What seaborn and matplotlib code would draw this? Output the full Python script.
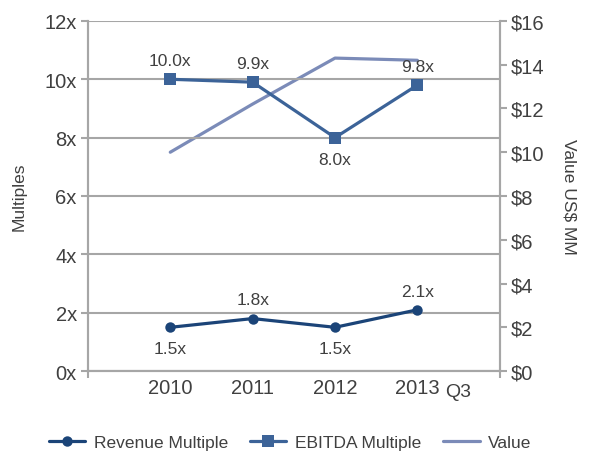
import matplotlib
matplotlib.use("Agg")
import matplotlib.pyplot as plt
import seaborn as sns
import pandas as pd

years = ["2010", "2011", "2012", "2013"]
revenue_multiple = [1.5, 1.8, 1.5, 2.1]
ebitda_multiple = [10.0, 9.9, 8.0, 9.8]
value_usd_mm = [10.0, 12.2, 14.3, 14.2]
revenue_labels = ["1.5x", "1.8x", "1.5x", "2.1x"]
ebitda_labels = ["10.0x", "9.9x", "8.0x", "9.8x"]
revenue_label_pos = ["below", "above", "below", "above"]
ebitda_label_pos = ["above", "above", "below", "above"]

sns.set_theme(style="white")
plt.rcParams['font.family'] = ['Liberation Sans', 'DejaVu Sans']

c_rev = "#1B4478"
c_ebitda = "#3C6398"
c_val = "#7B8BB8"
grid_c = "#A6A6A6"
txt_c = "#404040"

df = pd.DataFrame({"x": range(len(years)), "rev": revenue_multiple,
                   "ebitda": ebitda_multiple, "val": value_usd_mm})

fig = plt.figure(figsize=(5.9, 4.56), dpi=100)
ax = fig.add_axes([0.149, 0.184, 0.698, 0.768])
ax2 = ax.twinx()

sns.lineplot(data=df, x="x", y="val", ax=ax2, color=c_val, lw=2.3, label="Value", legend=False)
sns.lineplot(data=df, x="x", y="rev", ax=ax, color=c_rev, lw=2.3, marker="o", markersize=7.5,
             markeredgewidth=0, label="Revenue Multiple", legend=False)
sns.lineplot(data=df, x="x", y="ebitda", ax=ax, color=c_ebitda, lw=2.3, marker="s", markersize=8.5,
             markeredgewidth=0, label="EBITDA Multiple", legend=False)

ax.set_zorder(ax2.get_zorder() + 1)
ax.patch.set_visible(False)

ax.set_xlim(-1, 4)
ax.set_ylim(0, 12)
ax2.set_ylim(0, 16)
ax.set_yticks(range(0, 13, 2))
ax.set_yticklabels([f"{v}x" for v in range(0, 13, 2)])
ax2.set_yticks(range(0, 17, 2))
ax2.set_yticklabels([f"${v}" for v in range(0, 17, 2)])
ax.set_xticks(range(len(years)))
ax.set_xticklabels(years)
ax.set_xticks([-1, 4], minor=True)
ax.text(3.34, -0.42, "Q3", ha="left", va="top", fontsize=14, color=txt_c,
        transform=ax.transData)

ax.yaxis.grid(True, color=grid_c, lw=1.5)
ax.xaxis.grid(False)
ax2.grid(False)

for a in (ax, ax2):
    for s in a.spines.values():
        s.set_color(grid_c)
        s.set_linewidth(1.5)
    a.spines["top"].set_visible(False)
ax.tick_params(axis="y", which="major", length=5, width=1.5, color=grid_c, labelsize=14.5,
               labelcolor=txt_c, left=True, pad=3)
ax2.tick_params(axis="y", which="major", length=5, width=1.5, color=grid_c, labelsize=14.5,
                labelcolor=txt_c, right=True, pad=3)
ax.tick_params(axis="x", which="major", length=0, labelsize=14.5, labelcolor=txt_c, pad=5)
ax.tick_params(axis="x", which="minor", length=5, width=1.5, color=grid_c, bottom=True)

ax.set_xlabel("")
ax.set_ylabel("Multiples", fontsize=12.5, color=txt_c, labelpad=13)
ax2.set_ylabel("Value US$ MM", fontsize=12.5, color=txt_c, rotation=-90, labelpad=23)

def label_points(values, labels, positions):
    for i, (v, lab, pos) in enumerate(zip(values, labels, positions)):
        off = 8 if pos == "above" else -10
        ax.annotate(lab, (i, v), xytext=(0, off), textcoords="offset points", ha="center",
                    va="bottom" if pos == "above" else "top", fontsize=12.5, color=txt_c)

label_points(revenue_multiple, revenue_labels, revenue_label_pos)
label_points(ebitda_multiple, ebitda_labels, ebitda_label_pos)

h1, l1 = ax.get_legend_handles_labels()
h2, l2 = ax2.get_legend_handles_labels()
fig.legend(h1 + h2, l1 + l2, loc="lower center", bbox_to_anchor=(0.492, -0.024), ncol=3,
           frameon=False, fontsize=12.5, labelcolor=txt_c, handlelength=2.1, columnspacing=1.25,
           handletextpad=0.5)

fig.savefig("out.png", dpi=100)
